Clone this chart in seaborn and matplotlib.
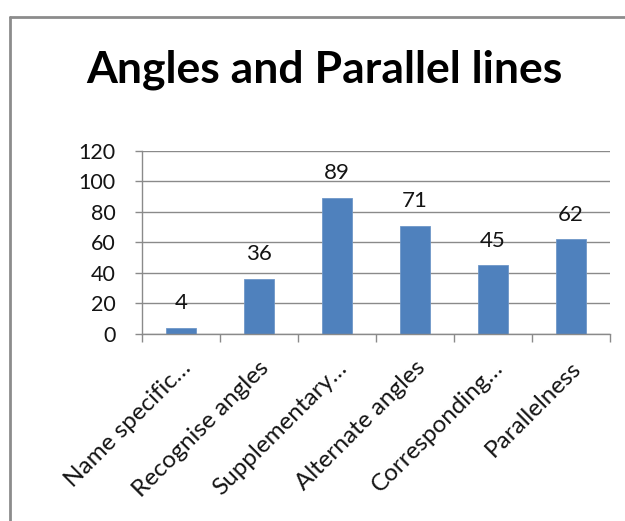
import matplotlib
matplotlib.use("Agg")
import matplotlib.pyplot as plt
import matplotlib.transforms as mtransforms
import seaborn as sns
import numpy as np
from matplotlib.lines import Line2D

categories = ["Name specific…", "Recognise angles", "Supplementary…",
              "Alternate angles", "Corresponding…", "Parallelness"]
values = [4, 36, 89, 71, 45, 62]
yticks = [0, 20, 40, 60, 80, 100, 120]

sns.set_theme(style="white")
plt.rcParams["font.family"] = ["Lato", "DejaVu Sans"]

W, H = 625, 521
fig = plt.figure(figsize=(W / 100, H / 100), dpi=100)
fig.patch.set_facecolor("white")

# chart frame (left and top edges)
frame_color = "#8c8c8c"
fig.add_artist(Line2D([10 / W, 10 / W], [0, 1 - 17 / H], transform=fig.transFigure,
                      color=frame_color, lw=2))
fig.add_artist(Line2D([10 / W, 1], [1 - 17 / H, 1 - 17 / H], transform=fig.transFigure,
                      color=frame_color, lw=2))

left, right, top, bottom = 142, 610, 150.7, 334
ax = fig.add_axes([left / W, 1 - bottom / H, (right - left) / W, (bottom - top) / H])

sns.barplot(x=categories, y=values, color="#4F81BD", saturation=1, width=0.39,
            edgecolor="#6f97c8", linewidth=0.6, ax=ax)

ax.set_ylim(0, 120)
ax.set_xlim(-0.5, len(categories) - 0.5)
ax.set_yticks(yticks)
ax.set_yticklabels([str(v) for v in yticks], fontsize=15.5, color="#141414")
ax.yaxis.grid(True, color="#8a8a8a", lw=1)
ax.set_axisbelow(True)

for s in ["top", "right"]:
    ax.spines[s].set_visible(False)
for s in ["left", "bottom"]:
    ax.spines[s].set_color("#8a8a8a")
    ax.spines[s].set_linewidth(1)

ax.tick_params(axis="y", which="major", left=True, length=5, width=1, color="#8a8a8a", pad=14)
ax.set_xticks(range(len(categories)))
ax.set_xticklabels(categories, rotation=45, ha="right", va="center", rotation_mode="anchor",
                   fontsize=17.5, color="#141414")
ax.tick_params(axis="x", which="major", bottom=False, length=0, pad=22)
shift = mtransforms.ScaledTranslation(7 / 100, 0, fig.dpi_scale_trans)
for lab in ax.get_xticklabels():
    lab.set_transform(lab.get_transform() + shift)
ax.set_xticks(np.arange(-0.5, len(categories), 1), minor=True)
ax.tick_params(axis="x", which="minor", bottom=True, length=6, width=1, color="#8a8a8a")
ax.set_xlabel("")
ax.set_ylabel("")

for i, v in enumerate(values):
    ax.annotate(str(v), (i, v), xytext=(0, 13.5), textcoords="offset points",
                ha="center", va="baseline", fontsize=16, color="#141414")

fig.text(324 / W, 1 - 83 / H, "Angles and Parallel lines", ha="center", va="baseline",
         fontsize=32, fontweight="bold", color="black")

fig.savefig("out.png", dpi=100, facecolor="white")
